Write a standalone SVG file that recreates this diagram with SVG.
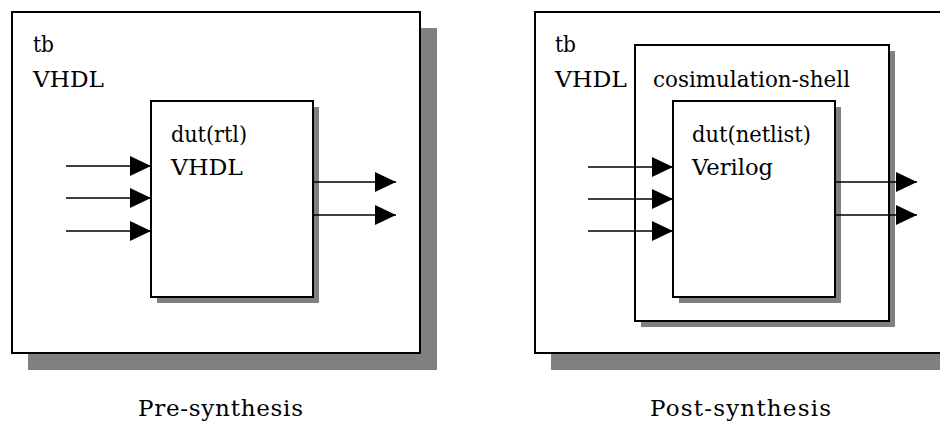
<svg xmlns="http://www.w3.org/2000/svg" width="940" height="428" viewBox="0 0 940 428">
  <style>
    .box { fill: #ffffff; stroke: #000000; stroke-width: 2; }
    .shadow { fill: #808080; }
    text { fill: #000000; }
    .wire { stroke: #000000; stroke-width: 1.6; fill: none; marker-end: url(#arrow); }
  </style>
  <defs>
    <marker id="arrow" markerUnits="userSpaceOnUse" markerWidth="22" markerHeight="22" viewBox="0 0 22 22" refX="21" refY="11" orient="auto">
      <path d="M0,1 L21,11 L0,21 Z" fill="#000000"/>
    </marker>
  </defs>

  <rect width="940" height="428" fill="#ffffff"/>

  <g font-family="DejaVu Serif, Liberation Serif, serif" font-size="22">
    <!-- Pre-synthesis testbench -->
    <g id="tb-pre">
      <rect class="shadow" x="28" y="28" width="409" height="342"/>
      <rect class="box" x="12" y="12" width="408" height="341"/>
      <text x="33" y="52" textLength="21" lengthAdjust="spacingAndGlyphs">tb</text>
      <text x="33" y="87" textLength="71" lengthAdjust="spacingAndGlyphs">VHDL</text>
    </g>

    <g id="dut-rtl">
      <rect class="shadow" x="157" y="107" width="162" height="196"/>
      <rect class="box" x="151" y="101" width="162" height="196"/>
      <text x="171" y="142" textLength="76" lengthAdjust="spacingAndGlyphs">dut(rtl)</text>
      <text x="171" y="175" textLength="72" lengthAdjust="spacingAndGlyphs">VHDL</text>
    </g>

    <!-- Post-synthesis testbench -->
    <g id="tb-post">
      <rect class="shadow" x="551" y="28" width="420" height="342"/>
      <rect class="box" x="535" y="12" width="420" height="341"/>
      <text x="555" y="52" textLength="21" lengthAdjust="spacingAndGlyphs">tb</text>
      <text x="555" y="87" textLength="72" lengthAdjust="spacingAndGlyphs">VHDL</text>
    </g>

    <g id="cosimulation-shell">
      <rect class="shadow" x="641" y="51" width="254" height="276"/>
      <rect class="box" x="635" y="45" width="254" height="276"/>
      <text x="653" y="87" textLength="197" lengthAdjust="spacingAndGlyphs">cosimulation-shell</text>
    </g>

    <g id="dut-netlist">
      <rect class="shadow" x="679" y="107" width="162" height="196"/>
      <rect class="box" x="673" y="101" width="162" height="196"/>
      <text x="692" y="142" textLength="119" lengthAdjust="spacingAndGlyphs">dut(netlist)</text>
      <text x="692" y="175" textLength="81" lengthAdjust="spacingAndGlyphs">Verilog</text>
    </g>

    <!-- Signal connectors -->
    <g id="connectors">
      <path class="wire" d="M66,166 H151"/>
      <path class="wire" d="M66,198 H151"/>
      <path class="wire" d="M66,231 H151"/>
      <path class="wire" d="M313,182 H396"/>
      <path class="wire" d="M313,215 H396"/>

      <path class="wire" d="M588,167 H673"/>
      <path class="wire" d="M588,199 H673"/>
      <path class="wire" d="M588,231 H673"/>
      <path class="wire" d="M835,182 H917"/>
      <path class="wire" d="M835,215 H917"/>
    </g>

    <text x="138" y="416" font-size="23" textLength="165" lengthAdjust="spacing">Pre-synthesis</text>
    <text x="650" y="416" font-size="23" textLength="181" lengthAdjust="spacing">Post-synthesis</text>
  </g>
</svg>
